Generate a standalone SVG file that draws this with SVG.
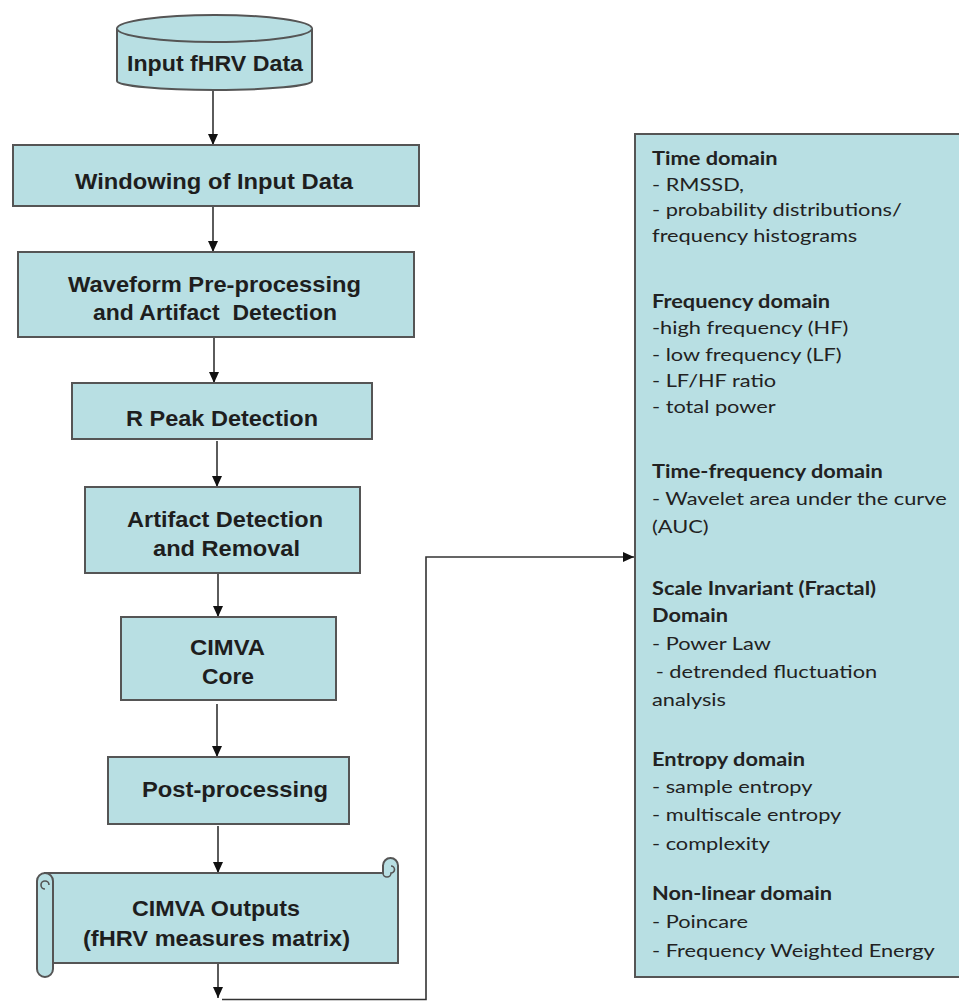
<svg xmlns="http://www.w3.org/2000/svg" width="959" height="1001" viewBox="0 0 959 1001">
<style>
.box{fill:#b8dfe3;stroke:#555;stroke-width:2}
.lbl{font-family:"Liberation Sans",Arial,sans-serif;font-weight:bold;font-size:22px;fill:#1e1e1e;text-anchor:middle}
.conn{fill:none;stroke:#333;stroke-width:1.6}
.rt{font-family:Lato,"Open Sans",sans-serif;font-size:18px;fill:#222}
.rt .h{font-weight:bold}
</style>
<defs>
<marker id="ah" markerUnits="userSpaceOnUse" markerWidth="12" markerHeight="12" viewBox="0 0 12 12" refX="11" refY="6" orient="auto">
<path d="M0,1 L11,6 L0,11 Z" fill="#111"/>
</marker>
</defs>
<rect width="959" height="1001" fill="#fff"/>

<g id="connectors">
<path class="conn" d="M213,90 V145" marker-end="url(#ah)"/>
<path class="conn" d="M213,206 V252" marker-end="url(#ah)"/>
<path class="conn" d="M214,337 V383" marker-end="url(#ah)"/>
<path class="conn" d="M217,441 V487" marker-end="url(#ah)"/>
<path class="conn" d="M218,573 V617" marker-end="url(#ah)"/>
<path class="conn" d="M217,704 V757" marker-end="url(#ah)"/>
<path class="conn" d="M218,826 V873" marker-end="url(#ah)"/>
<path class="conn" d="M218,963 V998" marker-end="url(#ah)"/>
<path class="conn" d="M222,999.5 H426 V557 H634" marker-end="url(#ah)"/>
</g>

<g id="input">
<path class="box" d="M117,28.5 A97.5,13.5 0 0 1 312,28.5 V81 A97.5,9 0 0 1 117,81 Z"/>
<path class="box" d="M117,28.5 A97.5,13.5 0 0 0 312,28.5" fill="none"/>
<text class="lbl" x="215" y="71" textLength="176" lengthAdjust="spacingAndGlyphs">Input fHRV Data</text>
</g>

<g id="windowing">
<rect class="box" x="13" y="145" width="406" height="61"/>
<text class="lbl" x="214" y="189" textLength="278" lengthAdjust="spacingAndGlyphs">Windowing of Input Data</text>
</g>

<g id="preprocessing">
<rect class="box" x="18" y="252" width="396" height="85"/>
<text class="lbl" x="214.5" y="292" textLength="293" lengthAdjust="spacingAndGlyphs">Waveform Pre-processing</text>
<text class="lbl" x="215" y="320" textLength="244" lengthAdjust="spacingAndGlyphs" xml:space="preserve">and Artifact  Detection</text>
</g>

<g id="rpeak">
<rect class="box" x="72" y="383" width="300" height="56"/>
<text class="lbl" x="222" y="426" textLength="192" lengthAdjust="spacingAndGlyphs">R Peak Detection</text>
</g>

<g id="artifact">
<rect class="box" x="85" y="487" width="275" height="86"/>
<text class="lbl" x="225" y="527" textLength="196" lengthAdjust="spacingAndGlyphs">Artifact Detection</text>
<text class="lbl" x="226.5" y="556" textLength="147" lengthAdjust="spacingAndGlyphs">and Removal</text>
</g>

<g id="core">
<rect class="box" x="121" y="617" width="215" height="83"/>
<text class="lbl" x="227.5" y="655" textLength="75" lengthAdjust="spacingAndGlyphs">CIMVA</text>
<text class="lbl" x="228" y="684" textLength="52" lengthAdjust="spacingAndGlyphs">Core</text>
</g>

<g id="postprocessing">
<rect class="box" x="108" y="757" width="241" height="67"/>
<text class="lbl" x="235" y="797" textLength="186" lengthAdjust="spacingAndGlyphs">Post-processing</text>
</g>

<g id="outputs">
<path class="box" d="M45,873 H383 V865.5 A7.5,7.5 0 0 1 398,865.5 V963 H45 Z"/>
<path fill="none" stroke="#555" stroke-width="1.6" d="M383,873 A4,4 0 0 0 391,873 A3.5,3.5 0 0 0 391,866"/>
<rect class="box" x="37" y="873" width="16" height="104" rx="8" ry="8"/>
<path fill="none" stroke="#555" stroke-width="1.6" d="M45,889 A4,4 0 0 1 45,881 A4,4 0 0 1 49,885"/>
<text class="lbl" x="216" y="916" textLength="168" lengthAdjust="spacingAndGlyphs">CIMVA Outputs</text>
<text class="lbl" x="216.5" y="946" textLength="267" lengthAdjust="spacingAndGlyphs">(fHRV measures matrix)</text>
</g>

<g id="measures">
<rect class="box" x="635" y="134" width="340" height="843"/>
<g class="rt" transform="translate(652,0) scale(1.21,1)">
<text class="h" x="0" y="165">Time domain</text>
<text x="0" y="191">- RMSSD,</text>
<text x="0" y="216">- probability distributions/</text>
<text x="0" y="242">frequency histograms</text>
<text class="h" x="0" y="308">Frequency domain</text>
<text x="0" y="334">-high frequency (HF)</text>
<text x="0" y="361">- low frequency (LF)</text>
<text x="0" y="387">- LF/HF ratio</text>
<text x="0" y="413">- total power</text>
<text class="h" x="0" y="478">Time-frequency domain</text>
<text x="0" y="505">- Wavelet area under the curve</text>
<text x="0" y="533">(AUC)</text>
<text class="h" x="0" y="595">Scale Invariant (Fractal)</text>
<text class="h" x="0" y="622">Domain</text>
<text x="0" y="650">- Power Law</text>
<text x="3" y="678">- detrended fluctuation</text>
<text x="0" y="706">analysis</text>
<text class="h" x="0" y="766">Entropy domain</text>
<text x="0" y="793">- sample entropy</text>
<text x="0" y="821">- multiscale entropy</text>
<text x="0" y="850">- complexity</text>
<text class="h" x="0" y="900">Non-linear domain</text>
<text x="0" y="928">- Poincare</text>
<text x="0" y="957">- Frequency Weighted Energy</text>
</g>
</g>
</svg>
